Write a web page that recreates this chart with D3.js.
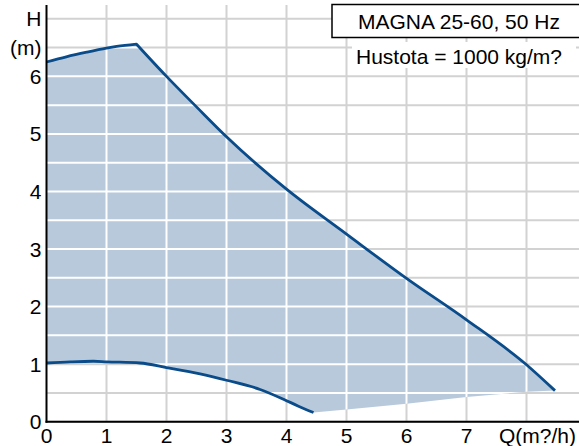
<!DOCTYPE html>
<html><head><meta charset="utf-8">
<script src="https://cdn.jsdelivr.net/npm/d3@7"></script>
<style>body{margin:0;background:#fff}svg{display:block}text{font-family:"Liberation Sans",Arial,sans-serif;fill:#000}</style>
</head><body>
<script>
const xTicks = [0,1,2,3,4,5,6,7];
const xTickLabels = ["0","1","2","3","4","5","6","7"];
const xUnitLabel = "Q(m?/h)";
const yTicks = [0,1,2,3,4,5,6];
const yTickLabels = ["0","1","2","3","4","5","6"];
const yUnitLabels = ["H","(m)"];
const title = "MAGNA 25-60, 50 Hz";
const subtitle = "Hustota = 1000 kg/m?";
// max curve: rising part and falling part (Q m3/h, H m)
const riseQ = [0, 0.33, 0.67, 1.0, 1.17, 1.5];
const riseH = [6.25, 6.34, 6.42, 6.49, 6.52, 6.56];
const fallQ = [1.5, 2.0, 2.5, 3.0, 4.0, 5.0, 6.0, 7.0, 8.0, 8.475];
const fallH = [6.56, 6.0, 5.47, 4.95, 4.04, 3.26, 2.49, 1.77, 0.99, 0.54];
// min curve
const lowerQ = [0, 0.4, 0.78, 1.0, 1.56, 2.0, 2.56, 3.0, 3.56, 3.95, 4.2, 4.45];
const lowerH = [1.02, 1.04, 1.05, 1.04, 1.02, 0.94, 0.83, 0.72, 0.56, 0.39, 0.27, 0.16];
// lower boundary of operating area
const edgeQ = [4.45, 5, 6, 7, 8, 8.475];
const edgeH = [0.16, 0.21, 0.31, 0.43, 0.52, 0.54];

const W = 579, H = 446;
const svg = d3.select("body").append("svg").attr("width", W).attr("height", H);
const x = d3.scaleLinear().domain([0, 8.875]).range([46.5, 579]);
const y = d3.scaleLinear().domain([0, 7.24]).range([421.7, 5]);

const hGrid = d3.range(0, 7.01, 0.5);
const vGrid = d3.range(1, 9, 1);

function drawGrid(g, color) {
  g.selectAll(".h").data(hGrid).join("line")
    .attr("x1", x(0)).attr("x2", W).attr("y1", d => y(d)).attr("y2", d => y(d))
    .attr("stroke", color).attr("stroke-width", 2);
  g.selectAll(".v").data(vGrid).join("line")
    .attr("y1", y(0)).attr("y2", y(7.24)).attr("x1", d => x(d)).attr("x2", d => x(d))
    .attr("stroke", color).attr("stroke-width", 2);
}
drawGrid(svg.append("g"), "#d2d2d2");

const pts = (qs, hs) => qs.map((q, i) => [q, hs[i]]);
const rise = pts(riseQ, riseH), fall = pts(fallQ, fallH);
const lower = pts(lowerQ, lowerH), edge = pts(edgeQ, edgeH);
const smooth = d3.line().x(d => x(d[0])).y(d => y(d[1])).curve(d3.curveMonotoneX);
const straight = d3.line().x(d => x(d[0])).y(d => y(d[1]));
const cont = s => "L" + s.slice(1); // continue a path instead of moving

const upperD = smooth(rise) + cont(smooth(fall));
const areaD = upperD + cont(straight(edge.slice().reverse())) + cont(smooth(lower.slice().reverse())) + "Z";

svg.append("clipPath").attr("id", "areaClip").append("path").attr("d", areaD);
svg.append("path").attr("d", areaD).attr("fill", "#b7c9db");
drawGrid(svg.append("g").attr("clip-path", "url(#areaClip)"), "#ffffff");

svg.append("path").attr("d", upperD).attr("fill", "none").attr("stroke", "#0a4b89").attr("stroke-width", 2.8).attr("stroke-linejoin", "round");
svg.append("path").attr("d", smooth(lower)).attr("fill", "none").attr("stroke", "#0a4b89").attr("stroke-width", 2.8).attr("stroke-linejoin", "round");

// axes
svg.append("line").attr("x1", x(0)).attr("x2", x(0)).attr("y1", y(7.24)).attr("y2", y(0) + 1).attr("stroke", "#000").attr("stroke-width", 2);
svg.append("line").attr("x1", x(0) - 1).attr("x2", W).attr("y1", y(0)).attr("y2", y(0)).attr("stroke", "#000").attr("stroke-width", 2);

const fs = "21px";
svg.selectAll(".yl").data(yTicks).join("text")
  .attr("x", 41.5).attr("y", d => y(d)).attr("dy", "0.36em").attr("text-anchor", "end").style("font-size", fs)
  .text((d, i) => yTickLabels[i]);
svg.append("text").attr("x", 41.5).attr("y", y(7)).attr("dy", "0.36em").attr("text-anchor", "end").style("font-size", fs).text(yUnitLabels[0]);
svg.append("text").attr("x", 41.5).attr("y", y(6.5)).attr("dy", "0.36em").attr("text-anchor", "end").style("font-size", fs).text(yUnitLabels[1]);

svg.selectAll(".xl").data(xTicks).join("text")
  .attr("x", d => x(d)).attr("y", 443).attr("text-anchor", "middle").style("font-size", fs)
  .text((d, i) => xTickLabels[i]);
svg.append("text").attr("x", 576).attr("y", 443).attr("text-anchor", "end").style("font-size", fs).text(xUnitLabel);

// title box
svg.append("rect").attr("x", 332).attr("y", 4.5).attr("width", 260).attr("height", 33).attr("fill", "#fff").attr("stroke", "#000").attr("stroke-width", 1.5);
svg.append("text").attr("x", 459).attr("y", 28.5).attr("text-anchor", "middle").style("font-size", fs).text(title);
svg.append("rect").attr("x", 352).attr("y", 42).attr("width", 224).attr("height", 26).attr("fill", "#fff");
svg.append("text").attr("x", 459).attr("y", 63.5).attr("text-anchor", "middle").style("font-size", fs).text(subtitle);
</script>
</body></html>
